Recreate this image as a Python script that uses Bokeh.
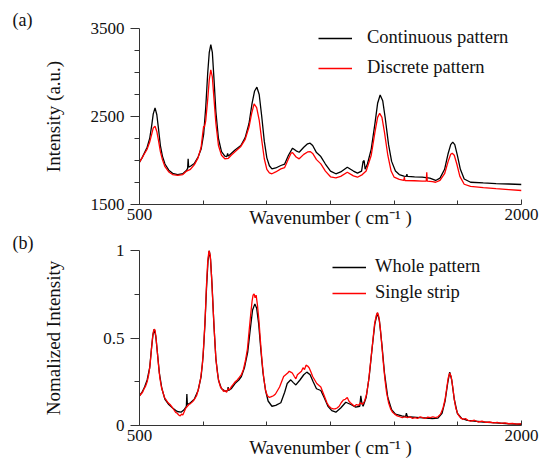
from bokeh.plotting import figure
from bokeh.models import FixedTicker, Legend, LegendItem, Range1d
from bokeh.layouts import column
from bokeh.embed import file_html
from bokeh.resources import INLINE

# ---------------- data ----------------
x_major = [500, 2000]
x_minor = [750, 1000, 1250, 1500, 1750]

a_y_major = [1500, 2500, 3500]
a_y_minor = [1750, 2000, 2250, 2750, 3000, 3250]
b_y_major = [0, 0.5, 1]
b_y_minor = [0.25, 0.75]

# (a) continuous pattern
cont_x = [500, 510, 520, 530, 540, 548, 554, 561, 568, 575, 582, 590, 600, 615, 630, 650, 670, 685, 689, 691, 693,
          700, 715, 730, 742, 752, 760, 768, 774, 780, 786, 792, 800, 810, 822, 835, 843, 846, 849, 860, 875, 898,
          915, 930, 942, 952, 961, 970, 980, 990, 1000, 1010, 1020, 1035, 1055, 1070, 1085, 1101, 1115, 1127, 1145,
          1160, 1170, 1180, 1195, 1212, 1230, 1250, 1271, 1290, 1316, 1340, 1356, 1372, 1378, 1382, 1386, 1395,
          1410, 1425, 1435, 1445, 1455, 1465, 1478, 1490, 1505, 1520, 1538, 1548, 1550, 1552, 1580, 1610, 1640,
          1663, 1680, 1698, 1712, 1722, 1730, 1738, 1748, 1760, 1775, 1800, 1850, 1900, 1950, 2000]
cont_y = [1980, 2030, 2090, 2150, 2250, 2400, 2530, 2598, 2520, 2350, 2170, 2050, 1960, 1890, 1855, 1840, 1850,
          1890, 1910, 2020, 1925, 1935, 1965, 2040, 2130, 2300, 2600, 3000, 3230, 3318, 3230, 2950, 2550, 2250,
          2100, 2050, 2045, 2080, 2050, 2080, 2120, 2170, 2260, 2420, 2650, 2790, 2833, 2750, 2500, 2220, 2030,
          1940, 1905, 1915, 1943, 1960, 2060, 2140, 2110, 2094, 2150, 2190, 2197, 2170, 2090, 2045, 1960, 1880,
          1849, 1870, 1924, 1880, 1856, 1880, 1990, 2000, 1900, 1960, 2130, 2430, 2650, 2745, 2680, 2480, 2180,
          1990, 1880, 1840, 1822, 1820, 1845, 1820, 1815, 1810, 1800, 1773, 1800, 1900, 2080, 2180, 2208, 2180,
          2060, 1900, 1790, 1753, 1745, 1738, 1733, 1727]

# (a) discrete pattern
disc_x = [500, 510, 520, 530, 540, 548, 554, 561, 568, 575, 582, 590, 600, 615, 630, 650, 670, 685, 700, 715, 730,
          742, 748, 752, 755, 760, 768, 774, 780, 786, 792, 800, 810, 822, 835, 849, 860, 875, 898, 915, 930, 940,
          950, 960, 970, 980, 990, 1000, 1010, 1020, 1035, 1055, 1070, 1085, 1095, 1101, 1115, 1127, 1145, 1160,
          1170, 1180, 1195, 1212, 1230, 1250, 1271, 1290, 1316, 1340, 1356, 1375, 1390, 1410, 1425, 1435, 1443,
          1452, 1462, 1475, 1488, 1500, 1520, 1538, 1540, 1542, 1580, 1610, 1626, 1628, 1630, 1650, 1663, 1680,
          1698, 1712, 1722, 1728, 1736, 1746, 1758, 1775, 1800, 1850, 1900, 1950, 2000]
disc_y = [1980, 2030, 2080, 2130, 2210, 2300, 2370, 2390, 2330, 2220, 2100, 2010, 1930, 1870, 1840, 1830, 1840,
          1880, 1900, 1950, 2030, 2150, 2300, 2390, 2380, 2450, 2700, 2920, 3030, 2950, 2720, 2420, 2170, 2060,
          2020, 2025, 2060, 2100, 2160, 2240, 2380, 2530, 2644, 2600, 2460, 2230, 2020, 1900, 1860, 1849, 1870,
          1905, 1920, 2020, 2083, 2090, 2040, 2019, 2070, 2097, 2102, 2080, 2010, 1962, 1880, 1815, 1803, 1820,
          1867, 1825, 1810, 1840, 1880, 2060, 2330, 2490, 2537, 2490, 2320, 2060, 1880, 1810, 1785, 1773, 1810,
          1773, 1770, 1765, 1765, 1867, 1765, 1760, 1753, 1775, 1850, 1990, 2070, 2083, 2060, 1960, 1820, 1730,
          1705, 1692, 1680, 1670, 1659]

# (b) whole pattern
whole_x = [500, 510, 520, 530, 540, 547, 553, 558, 564, 570, 578, 588, 600, 615, 630, 648, 663, 675, 684, 686, 688,
           700, 715, 730, 742, 750, 757, 763, 769, 774, 779, 785, 792, 800, 810, 822, 838, 846, 848, 850, 860, 875,
           890, 900, 912, 925, 935, 944, 953, 960, 968, 976, 985, 995, 1005, 1020, 1035, 1055, 1070, 1080, 1094,
           1104, 1114, 1130, 1145, 1157, 1170, 1182, 1195, 1212, 1225, 1240, 1255, 1271, 1290, 1310, 1330, 1349,
           1365, 1369, 1373, 1378, 1390, 1402, 1414, 1424, 1434, 1442, 1452, 1462, 1475, 1490, 1505, 1530, 1545,
           1548, 1552, 1600, 1650, 1672, 1688, 1700, 1710, 1718, 1726, 1736, 1748, 1765, 1787, 1850, 1900, 1950,
           2000]
whole_y = [0.17, 0.19, 0.22, 0.26, 0.33, 0.44, 0.52, 0.55, 0.51, 0.42, 0.30, 0.21, 0.15, 0.12, 0.10, 0.08, 0.076,
           0.09, 0.11, 0.18, 0.12, 0.13, 0.15, 0.20, 0.28, 0.40, 0.58, 0.78, 0.94, 1.0, 0.95, 0.80, 0.58, 0.38,
           0.26, 0.21, 0.195, 0.20, 0.22, 0.20, 0.21, 0.24, 0.26, 0.28, 0.33, 0.42, 0.55, 0.66, 0.695, 0.67, 0.58,
           0.44, 0.30, 0.20, 0.14, 0.11, 0.115, 0.13, 0.19, 0.24, 0.261, 0.245, 0.232, 0.26, 0.29, 0.305, 0.29,
           0.25, 0.21, 0.20, 0.16, 0.11, 0.085, 0.076, 0.10, 0.133, 0.12, 0.105, 0.11, 0.17, 0.13, 0.11, 0.16,
           0.28, 0.45, 0.58, 0.644, 0.60, 0.46, 0.30, 0.16, 0.09, 0.065, 0.055, 0.05, 0.07, 0.05, 0.045, 0.04,
           0.042, 0.07, 0.14, 0.24, 0.305, 0.26, 0.15, 0.07, 0.04, 0.029, 0.02, 0.015, 0.01, 0.006]

# (b) single strip
strip_x = [500, 506, 512, 518, 524, 530, 536, 541, 546, 551, 555, 558, 561, 565, 570, 575, 580, 586, 592, 598, 605,
           612, 620, 628, 635, 642, 648, 654, 660, 665, 670, 676, 682, 688, 694, 700, 708, 716, 724, 732, 740, 747,
           753, 758, 763, 768, 773, 778, 783, 788, 794, 800, 806, 812, 818, 824, 830, 836, 842, 848, 854, 860, 868,
           876, 884, 892, 900, 908, 916, 924, 931, 937, 942, 946, 950, 954, 958, 963, 969, 975, 981, 988, 995,
           1002, 1010, 1018, 1026, 1034, 1042, 1050, 1058, 1066, 1074, 1082, 1088, 1094, 1100, 1108, 1114, 1120,
           1128, 1136, 1142, 1148, 1154, 1160, 1166, 1172, 1180, 1188, 1196, 1204, 1212, 1220, 1228, 1236, 1244,
           1252, 1260, 1268, 1276, 1284, 1292, 1300, 1308, 1316, 1322, 1328, 1336, 1344, 1352, 1360, 1368, 1376,
           1384, 1392, 1400, 1408, 1416, 1423, 1430, 1435, 1440, 1446, 1452, 1458, 1464, 1470, 1478, 1486, 1494,
           1502, 1512, 1522, 1532, 1542, 1552, 1562, 1572, 1582, 1592, 1602, 1612, 1622, 1632, 1642, 1652, 1662,
           1672, 1682, 1692, 1700, 1706, 1712, 1718, 1724, 1730, 1736, 1742, 1750, 1760, 1770, 1780, 1790, 1800,
           1815, 1830, 1845, 1860, 1875, 1890, 1905, 1920, 1935, 1950, 1965, 1980, 2000]
strip_y = [0.17, 0.18, 0.19, 0.21, 0.225, 0.25, 0.29, 0.34, 0.42, 0.50, 0.54, 0.55, 0.545, 0.50, 0.42, 0.34, 0.27,
           0.22, 0.19, 0.16, 0.145, 0.13, 0.12, 0.105, 0.09, 0.075, 0.07, 0.06, 0.055, 0.065, 0.06, 0.08, 0.10,
           0.11, 0.12, 0.125, 0.135, 0.15, 0.17, 0.21, 0.27, 0.35, 0.48, 0.62, 0.80, 0.94, 1.0, 0.97, 0.85, 0.70,
           0.53, 0.38, 0.30, 0.25, 0.22, 0.21, 0.195, 0.20, 0.19, 0.21, 0.205, 0.22, 0.235, 0.25, 0.26, 0.275,
           0.29, 0.32, 0.37, 0.44, 0.55, 0.64, 0.71, 0.745, 0.752, 0.73, 0.745, 0.69, 0.60, 0.48, 0.37, 0.27, 0.20,
           0.17, 0.16, 0.165, 0.17, 0.18, 0.20, 0.22, 0.25, 0.28, 0.29, 0.30, 0.31, 0.305, 0.30, 0.28, 0.267,
           0.29, 0.30, 0.31, 0.33, 0.32, 0.345, 0.34, 0.33, 0.31, 0.28, 0.26, 0.24, 0.23, 0.22, 0.19, 0.16, 0.13,
           0.11, 0.10, 0.095, 0.095, 0.10, 0.11, 0.13, 0.145, 0.15, 0.16, 0.14, 0.13, 0.12, 0.11, 0.12, 0.115,
           0.13, 0.12, 0.14, 0.18, 0.26, 0.37, 0.48, 0.58, 0.63, 0.645, 0.62, 0.55, 0.45, 0.35, 0.26, 0.19, 0.13,
           0.095, 0.075, 0.065, 0.055, 0.05, 0.045, 0.05, 0.045, 0.05, 0.04, 0.045, 0.04, 0.05, 0.045, 0.04,
           0.048, 0.045, 0.05, 0.045, 0.05, 0.065, 0.10, 0.15, 0.21, 0.27, 0.30, 0.28, 0.22, 0.15, 0.10, 0.065,
           0.045, 0.035, 0.04, 0.03, 0.025, 0.03, 0.02, 0.025, 0.018, 0.02, 0.015, 0.018, 0.012, 0.015, 0.01,
           0.012, 0.008, 0.01]

# ---------------- styling ----------------
FONT = "Liberation Serif"
BLACK = "#000000"
RED = "#ff0000"
AXIS = "#333333"
TEXT = "#111111"
XLABEL = "Wavenumber ( cm\u207b\u00b9 )"


def make_panel(tag, tag_standoff, height, b_top, b_bottom, yr, ymaj, yminor, ylabel, ylabel_standoff,
               xlabel_standoff):
    p = figure(width=539, height=height, x_range=Range1d(500, 2000), y_range=Range1d(*yr),
               output_backend="svg", toolbar_location=None, title=tag,
               min_border_left=139, min_border_right=18,
               min_border_top=b_top, min_border_bottom=b_bottom)
    p.title.align = "left"
    p.title.offset = -127
    p.title.standoff = tag_standoff
    p.title.text_font = FONT
    p.title.text_font_size = "18px"
    p.title.text_font_style = "normal"
    p.title.text_color = TEXT
    p.grid.visible = False
    p.outline_line_color = None
    p.background_fill_color = "white"
    p.border_fill_color = "white"

    p.xaxis.ticker = FixedTicker(ticks=x_major, minor_ticks=x_minor)
    p.xaxis.major_tick_in = 5
    p.xaxis.major_tick_out = 0
    p.xaxis.minor_tick_in = 4
    p.xaxis.minor_tick_out = 0
    p.xaxis.major_label_standoff = 4
    p.xaxis.axis_label = XLABEL
    p.xaxis.axis_label_standoff = xlabel_standoff

    p.yaxis.ticker = FixedTicker(ticks=ymaj, minor_ticks=yminor)
    p.yaxis.major_tick_in = 0
    p.yaxis.major_tick_out = 9
    p.yaxis.minor_tick_in = 0
    p.yaxis.minor_tick_out = 5
    p.yaxis.major_label_standoff = 6
    p.yaxis.axis_label = ylabel
    p.yaxis.axis_label_standoff = ylabel_standoff

    for ax in (p.xaxis, p.yaxis):
        ax.axis_line_color = AXIS
        ax.major_tick_line_color = AXIS
        ax.minor_tick_line_color = AXIS
        ax.major_label_text_font = FONT
        ax.major_label_text_font_size = "17px"
        ax.major_label_text_color = TEXT
        ax.axis_label_text_font = FONT
        ax.axis_label_text_font_size = "19px"
        ax.axis_label_text_font_style = "normal"
        ax.axis_label_text_color = TEXT
    return p


def add_legend(p, items, x, y, spacing, standoff):
    leg = Legend(items=items, location=(x, y), orientation="vertical")
    leg.border_line_color = None
    leg.background_fill_alpha = 0
    leg.padding = 0
    leg.margin = 0
    leg.glyph_width = 34
    leg.glyph_height = 20
    leg.label_height = 20
    leg.spacing = spacing
    leg.label_standoff = standoff
    leg.label_text_font = FONT
    leg.label_text_font_size = "18.5px"
    leg.label_text_color = TEXT
    p.add_layout(leg)


# panel (a)
pa = make_panel("(a)", -3, 232, 28, 28, (1500, 3500), a_y_major, a_y_minor, "Intensity (a.u.)", 24, -16)
ra1 = pa.line(cont_x, cont_y, line_color=BLACK, line_width=1.3)
ra2 = pa.line(disc_x, disc_y, line_color=RED, line_width=1.3)
add_legend(pa, [LegendItem(label="Continuous pattern", renderers=[ra1]),
                LegendItem(label="Discrete pattern", renderers=[ra2])], 179, 126, 9, 15)

# panel (b)
pb = make_panel("(b)", -4, 230, 18, 37, (0, 1), b_y_major, b_y_minor, "Nomalized Intensity", 36, -7)
rb1 = pb.line(whole_x, whole_y, line_color=BLACK, line_width=1.3)
rb2 = pb.line(strip_x, strip_y, line_color=RED, line_width=1.3)
add_legend(pb, [LegendItem(label="Whole pattern", renderers=[rb1]),
                LegendItem(label="Single strip", renderers=[rb2])], 193, 122, 5, 9)

layout = column(pa, pb, spacing=0)
open("out.html", "w").write(file_html(layout, INLINE))
